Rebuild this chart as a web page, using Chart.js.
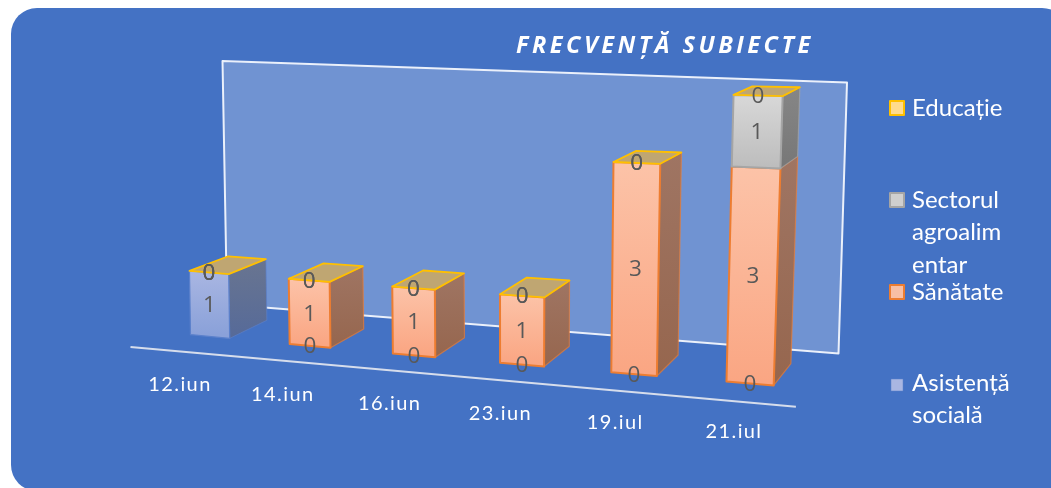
<!DOCTYPE html>
<html><head><meta charset="utf-8">
<style>html,body{margin:0;padding:0;background:#fff;overflow:hidden}canvas{display:block}</style>
<script src="https://cdn.jsdelivr.net/npm/chart.js@4"></script></head>
<body><canvas id="c" width="1051" height="488"></canvas>
<script>
const categories = ["12.iun","14.iun","16.iun","23.iun","19.iul","21.iul"];
const asistenta = [1,0,0,0,0,0];
const sanatate  = [0,1,1,1,3,3];
const sector    = [0,0,0,0,0,1];
const educatie  = [0,0,0,0,0,0];
const titleText = "FRECVENȚĂ SUBIECTE";
const FONT = "Lato, 'Open Sans', sans-serif";

const looks = [
 {front:["#A9B6E2","#8AA1D9"],side:["#697590","#566A99"],line:"#5B80CB",swatch:"#A9B6E2",sw:14,lw:0.5},
 {front:["#FCC3A8","#FAA683"],side:["#9F7563","#96664E"],line:"#ED7D31",swatch:"#F8BFA4",sw:16,lw:2},
 {front:["#D8D8D8","#BDBDBD"],side:["#868686","#777777"],line:"#A5A5A5",swatch:"#CFCFCF",sw:16,lw:2},
 {front:["#FFD98A","#FFD98A"],side:["#A88C50","#A88C50"],line:"#FFC000",swatch:"#FFDB8E",sw:16,lw:2}
];
// perspective of the floor: category position i, value v, depth d -> page
function project(i,v,d){
  return {
    x:210+98*i+2*i*i + v*(-1+0.12*i*i) + d*(38-4*i),
    y:336.5+9.4*i - v*(64+1.6*i) + d*(-(18+0.7*i)+3.2*v)
  };
}
function poly(ctx,pts,fill,stroke,lw){
  ctx.beginPath();
  pts.forEach((p,k)=>k?ctx.lineTo(p.x,p.y):ctx.moveTo(p.x,p.y));
  ctx.closePath();
  if(fill){ctx.fillStyle=fill;ctx.fill();}
  if(stroke&&lw){ctx.strokeStyle=stroke;ctx.lineWidth=lw;ctx.lineJoin="round";ctx.stroke();}
}
function vGrad(ctx,y0,y1,cols){
  const g=ctx.createLinearGradient(0,y0,0,y1);
  g.addColorStop(0,cols[0]);g.addColorStop(1,cols[1]);return g;
}
const scene = {
  id:"scene",
  beforeDraw(chart){
    const ctx=chart.ctx;
    ctx.save();
    ctx.fillStyle="#fff";ctx.fillRect(0,0,1051,488);
    ctx.beginPath();ctx.roundRect(11,8,1057,483,26);ctx.fillStyle="#4472C4";ctx.fill();
    // glass back wall
    poly(ctx,[{x:222.5,y:61},{x:847,y:82.5},{x:838.5,y:353.5},{x:227,y:304.5}],"rgba(255,255,255,0.235)","rgba(240,244,252,0.97)",2);
    // floor axis
    const a=project(-0.47,0,-0.85), b=project(5.5,0,-0.85);
    ctx.beginPath();ctx.moveTo(a.x,a.y);ctx.lineTo(b.x,b.y);ctx.strokeStyle="#D6DDEC";ctx.lineWidth=2;ctx.stroke();
    // category labels
    ctx.font="20px "+FONT;ctx.fillStyle="#fff";ctx.textAlign="center";ctx.textBaseline="middle";
    ctx.letterSpacing="1.4px";
    const xs=chart.scales.x;
    categories.forEach((c,k)=>{
      const i=(xs.getPixelForValue(k)-xs.left)/(xs.right-xs.left)*categories.length-0.5;
      const p=project(i,0,0);
      ctx.fillText(c,p.x-30+2.8*i,p.y+48.5);
    });
    // title
    ctx.font="italic 700 23.5px 'Open Sans', sans-serif";ctx.letterSpacing="3.5px";ctx.textAlign="left";
    ctx.fillText(titleText,516,46);
    ctx.letterSpacing="0px";
    // legend
    const ys=[108,200,292,385];
    const order=[3,2,1,0];
    ctx.font="24px "+FONT;
    order.forEach((d,k)=>{
      const look=looks[d],s=look.sw,cy=ys[k],cx=897;
      ctx.fillStyle=look.swatch;
      ctx.fillRect(cx-s/2+1,cy-s/2+1,s-2,s-2);
      ctx.strokeStyle=look.line;ctx.lineWidth=look.lw;
      ctx.strokeRect(cx-s/2+1,cy-s/2+1,s-2,s-2);
      ctx.fillStyle="#fff";ctx.textAlign="left";ctx.textBaseline="middle";
      const lines=[];
      chart.data.datasets[d].label.split(" ").forEach(w=>{
        while(ctx.measureText(w).width>104){
          let n=w.length;while(ctx.measureText(w.slice(0,n)).width>100)n--;
          lines.push(w.slice(0,n));w=w.slice(n);
        }
        lines.push(w);
      });
      const top=cy-(k===3?2:0);
      lines.forEach((t,j)=>ctx.fillText(t,912,top+j*32.5));
    });
    ctx.restore();
  },
  beforeDatasetsDraw(chart){
    const ctx=chart.ctx,xs=chart.scales.x,ys=chart.scales.y,n=categories.length;
    const cw=(xs.right-xs.left)/n;
    ctx.save();
    for(let c=0;c<n;c++){
      chart.data.datasets.forEach((ds,k)=>{
        const el=chart.getDatasetMeta(k).data[c],look=looks[k];
        const i=(el.x-xs.left)/cw-0.5,w=el.width/2/cw;
        const v1=ys.getValueForPixel(el.y),v0=ys.getValueForPixel(el.base);
        const A=project(i-w,v0,0),B=project(i+w,v0,0),C=project(i+w,v1,0),D=project(i-w,v1,0);
        const E=project(i+w,v0,1),F=project(i+w,v1,1);
        if(v1-v0>0.001){
          poly(ctx,[B,C,F,E],vGrad(ctx,F.y,B.y,look.side),look.line+"AA",k===0?1:1.2);
          poly(ctx,[A,B,C,D],vGrad(ctx,D.y,A.y,look.front),look.line,k===0?1.2:2);
        }
      });
      // the zero-height top series closes the column with its lid
      const last=chart.data.datasets.length-1;
      const el=chart.getDatasetMeta(last).data[c];
      const i=(el.x-xs.left)/cw-0.5,w=el.width/2/cw,v=ys.getValueForPixel(el.y);
      poly(ctx,[project(i-w,v,0),project(i+w,v,0),project(i+w,v,1),project(i-w,v,1)],"#BFA672",looks[last].line,1.8);
    }
    // value labels
    ctx.font="22.5px 'Open Sans', sans-serif";ctx.fillStyle="#595959";ctx.textAlign="center";ctx.textBaseline="middle";
    chart.data.datasets.forEach((ds,k)=>{
      chart.getDatasetMeta(k).data.forEach((el,c)=>{
        const i=(el.x-xs.left)/cw-0.5;
        const v=(ys.getValueForPixel(el.y)+ys.getValueForPixel(el.base))/2;
        const p=project(i,v,0);
        ctx.fillText(String(ds.data[c]),p.x,p.y+1);
      });
    });
    ctx.restore();
    return false;
  }
};
const mk=(label,data,k)=>({label,data,backgroundColor:looks[k].front[0],borderColor:looks[k].line,stack:"s",barPercentage:0.4,categoryPercentage:1});
new Chart(document.getElementById("c"),{
  type:"bar",
  data:{labels:categories,datasets:[
    mk("Asistență socială",asistenta,0),
    mk("Sănătate",sanatate,1),
    mk("Sectorul agroalimentar",sector,2),
    mk("Educație",educatie,3)
  ]},
  options:{
    responsive:false,animation:false,devicePixelRatio:1,
    layout:{padding:{left:150,right:250,top:60,bottom:120}},
    plugins:{legend:{display:false},title:{display:false},tooltip:{enabled:false}},
    scales:{
      x:{stacked:true,display:false},
      y:{stacked:true,display:false,min:0,max:5}
    }
  },
  plugins:[scene]
});
</script></body></html>
